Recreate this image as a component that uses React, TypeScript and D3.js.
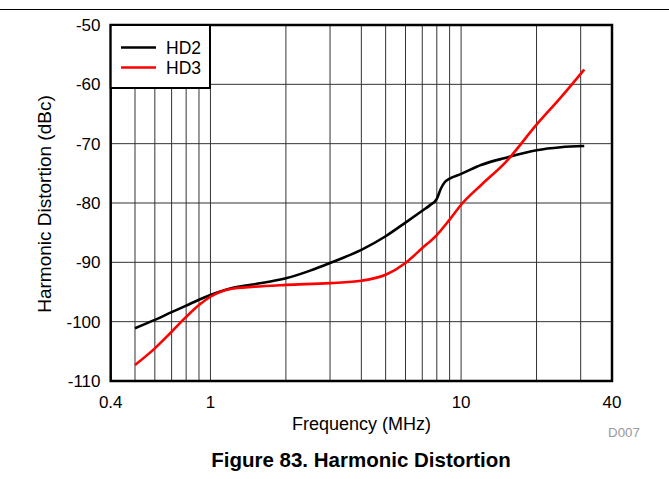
import React from "react";
import * as d3 from "d3";

const hd2Freq = [0.5, 0.6, 0.7, 0.8, 0.9, 1.0, 1.2, 1.5, 2, 2.5, 3, 4, 5, 6, 7, 7.5, 8, 8.3, 8.6, 9, 10, 12, 15, 20, 25, 31];
const hd2 = [-101.1, -99.7, -98.4, -97.3, -96.3, -95.5, -94.4, -93.7, -92.7, -91.4, -90.1, -87.9, -85.6, -83.3, -81.3, -80.4, -79.3, -77.6, -76.5, -75.9, -75.1, -73.6, -72.4, -71.1, -70.6, -70.4];

const hd3Freq = [0.5, 0.6, 0.7, 0.8, 0.9, 1.0, 1.2, 1.5, 2, 3, 4, 5, 6, 7, 8, 9, 10, 12, 15, 20, 25, 31];
const hd3 = [-107.3, -104.5, -101.7, -99.2, -97.2, -95.8, -94.5, -94.1, -93.8, -93.5, -93.1, -92.1, -90.1, -87.6, -85.4, -82.8, -80.3, -77.0, -73.2, -66.8, -62.2, -57.5];

const xGrid = [0.5, 0.6, 0.7, 0.8, 0.9, 1, 2, 3, 4, 5, 6, 7, 8, 9, 10, 20, 30];
const xTickLabels = [0.4, 1, 10, 40];
const yTicks = [-110, -100, -90, -80, -70, -60, -50];

const seriesNames = ["HD2", "HD3"];
const seriesColors = ["#000000", "#ff0000"];

const W = 669;
const H = 479;
const L = 110.7, R = 612, T = 25, B = 381;
const FONT = "'Liberation Sans', Arial, sans-serif";

export default function App() {
  const x = d3.scaleLog().domain([0.4, 40]).range([L, R]);
  const y = d3.scaleLinear().domain([-110, -50]).range([B, T]);
  const line = d3
    .line<[number, number]>()
    .x((d) => x(d[0]))
    .y((d) => y(d[1]))
    .curve(d3.curveMonotoneX);
  const d2 = line(hd2Freq.map((f, i) => [f, hd2[i]] as [number, number])) || "";
  const d3p = line(hd3Freq.map((f, i) => [f, hd3[i]] as [number, number])) || "";

  return (
    <svg
      width={W}
      height={H}
      style={{ position: "absolute", left: 0, top: 0, background: "#fff" }}
      fontFamily={FONT}
    >
      <line x1={0} x2={W} y1={9.5} y2={9.5} stroke="#000" strokeWidth={1} />
      {xGrid.map((f) => (
        <line key={"vx" + f} x1={x(f)} x2={x(f)} y1={T} y2={B} stroke="#333" strokeWidth={1} />
      ))}
      {yTicks.map((v) => (
        <line key={"hy" + v} x1={L} x2={R} y1={y(v)} y2={y(v)} stroke="#333" strokeWidth={1} />
      ))}
      <path d={d2} fill="none" stroke={seriesColors[0]} strokeWidth={2.6} />
      <path d={d3p} fill="none" stroke={seriesColors[1]} strokeWidth={2.6} />
      <rect x={L} y={T} width={R - L} height={B - T} fill="none" stroke="#000" strokeWidth={2.5} />
      {/* legend */}
      <rect x={L} y={T} width={210 - L} height={88 - T} fill="#fff" stroke="#000" strokeWidth={2} />
      {seriesNames.map((n, i) => (
        <g key={n}>
          <line x1={121} x2={156} y1={47.5 + i * 20} y2={47.5 + i * 20} stroke={seriesColors[i]} strokeWidth={2.6} />
          <text x={166} y={47.5 + i * 20} dy="0.36em" fontSize={17.5} fill="#000">
            {n}
          </text>
        </g>
      ))}
      {yTicks.map((v) => (
        <text key={"yt" + v} x={100.5} y={y(v)} dy="0.36em" textAnchor="end" fontSize={17} fill="#000">
          {v}
        </text>
      ))}
      {xTickLabels.map((v) => (
        <text key={"xt" + v} x={x(v)} y={408} textAnchor="middle" fontSize={17} fill="#000">
          {v}
        </text>
      ))}
      <text x={361.5} y={430} textAnchor="middle" fontSize={18} fill="#000">
        Frequency (MHz)
      </text>
      <text
        transform={`translate(51,204) rotate(-90)`}
        textAnchor="middle"
        fontSize={19}
        fill="#000"
      >
        Harmonic Distortion (dBc)
      </text>
      <text x={624} y={436.5} textAnchor="middle" fontSize={13.3} fill="#999">
        D007
      </text>
      <text x={361} y={466.5} textAnchor="middle" fontSize={20.5} fontWeight="bold" fill="#000">
        Figure 83. Harmonic Distortion
      </text>
    </svg>
  );
}
